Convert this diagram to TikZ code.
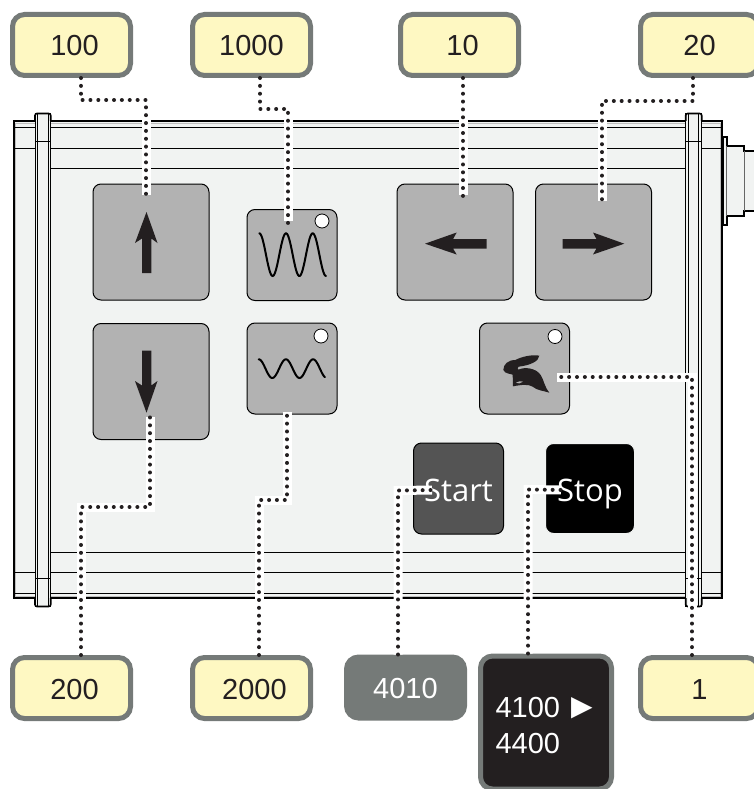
\documentclass[tikz,border=0pt]{standalone}
\usepackage{fontspec}
\setmainfont{Liberation Sans}
\newfontfamily\keyfont{Open Sans}
\newfontfamily\symfont{DejaVu Sans}
\usetikzlibrary{calc}
\definecolor{panelc}{HTML}{F1F3F2}
\definecolor{btnc}{HTML}{B2B2B2}
\definecolor{inkc}{HTML}{231F20}
\definecolor{edgec}{HTML}{757A78}
\definecolor{notec}{HTML}{FEF8C2}
\definecolor{startc}{HTML}{545454}
\tikzset{
  note/.style={draw=edgec,line width=5pt,fill=notec,rounded corners=12pt,minimum width=118pt,minimum height=61pt,inner sep=0pt,text=inkc,text height=22pt,text depth=0pt,font=\fontsize{29}{34}\selectfont},
  greynote/.style={note,fill=edgec,text=white},
  darknote/.style={draw=edgec,line width=5pt,fill=inkc,rounded corners=12pt,minimum width=131pt,minimum height=133pt,inner xsep=15pt,inner ysep=0pt,text=white,text width=101pt,align=left,font=\fontsize{29}{36}\selectfont},
  btn/.style={draw=black,line width=1pt,fill=btnc,rounded corners=8pt,inner sep=0pt},
  bigbtn/.style={btn,minimum width=116pt,minimum height=116pt},
  smallbtn/.style={btn,minimum width=90pt,minimum height=91pt},
  keybtn/.style={smallbtn,text=white,text height=25pt,text depth=0pt,font=\keyfont\fontsize{31}{36}\selectfont},
  led/.style={draw=black,line width=.8pt,fill=white,circle,minimum size=14pt,inner sep=0pt},
  halo/.style={draw=white,line width=9pt,shorten >=2pt},
  dots/.style={draw=inkc,line width=4pt,line cap=round,dash pattern=on 0.01pt off 7.85pt},
  thin/.style={draw=black,line width=.7pt},
  heavy/.style={draw=black,line width=2pt},
  glyph/.style={fill=inkc,draw=none},
  wave/.style={draw=black,line width=2pt,line cap=round},
}
\newcommand{\wire}[1]{\draw[halo] #1; \draw[dots] #1;}
\begin{document}
\begin{tikzpicture}[x=1pt,y=-1pt]
\useasboundingbox (0,0) rectangle (754,789);
\clip (0,0) rectangle (754,789);
% pipe at the right
\draw[fill=panelc,heavy] (723,136.7) -- (726.7,136.7) -- (726.7,145.7) -- (744,145.7) -- (744,150.7) -- (760,150.7) -- (760,210.7) -- (744,210.7) -- (744,216) -- (726.7,216) -- (726.7,225) -- (723,225) -- cycle;
\draw[thin,draw=black!60] (726.7,146) -- (726.7,216) (744,151) -- (744,211);
% panel
\draw[heavy,fill=panelc] (13.5,121.5) rectangle (722.3,598);
\draw[thin,draw=black!25] (15.3,123) rectangle (720.7,596);
\draw[thin] (15,127) -- (721,127) (15,148) -- (721,148) (15,572) -- (721,572) (15,593) -- (721,593) (50,168) -- (686,168) (50,552) -- (686,552);
% left strip
\draw[fill=panelc,draw=none] (35,113) rectangle (50.7,607);
\draw[line width=1.6pt,draw=black,rounded corners=2pt] (35,121) -- (35,113.5) -- (50.7,113.5) -- (50.7,121);
\draw[line width=1.6pt,draw=black,rounded corners=2pt] (35,598) -- (35,606.5) -- (50.7,606.5) -- (50.7,598);
\draw[thin] (35,113) -- (35,607) (37.7,114) -- (37.7,606) (47.9,114) -- (47.9,606) (50.7,113) -- (50.7,607) (35,141) -- (50.7,141) (35,578) -- (50.7,578);
% right strip
\draw[fill=panelc,draw=none] (685.7,113) rectangle (701.7,607);
\draw[line width=1.6pt,draw=black,rounded corners=2pt] (685.7,121) -- (685.7,113.5) -- (701.7,113.5) -- (701.7,121);
\draw[line width=1.6pt,draw=black,rounded corners=2pt] (685.7,598) -- (685.7,606.5) -- (701.7,606.5) -- (701.7,598);
\draw[thin] (685.7,113) -- (685.7,607) (688.4,114) -- (688.4,606) (698.6,114) -- (698.6,606) (701.7,113) -- (701.7,607) (685.7,141) -- (701.7,141) (685.7,578) -- (701.7,578);
% buttons
\node[bigbtn] (bUp) at (151,242) {};
\node[bigbtn] (bDown) at (151,381.5) {};
\node[bigbtn] (bLeft) at (455,242) {};
\node[bigbtn] (bRight) at (593.5,242) {};
\node[smallbtn] (bSine) at (292,255) {};
\node[smallbtn] (bWave) at (292,368.5) {};
\node[smallbtn] (bRabbit) at (524.5,368.5) {};
\node[led] (ledSine) at (322,221) {};
\node[led] (ledWave) at (321,336) {};
\node[led] (ledRabbit) at (555,336.5) {};
\node[keybtn,fill=startc] (bStart) at (458.5,488.5) {Start};
\node[keybtn,fill=black,draw=panelc,minimum width=89pt,minimum height=90pt] (bStop) at (590,488.5) {Stop};
% arrows
\fill[glyph] (146.5,212) -- (157.5,243) -- (151.3,238.5) -- (151.3,273) -- (142,273) -- (142,238.5) -- (135,243) -- cycle;
\fill[glyph] (146.5,412.7) -- (157.5,381) -- (151.3,385.5) -- (151.3,350.7) -- (142,350.7) -- (142,385.5) -- (135,381) -- cycle;
\fill[glyph] (425,243.7) -- (456.7,232.5) -- (453,239.2) -- (486.7,239.2) -- (486.7,248.5) -- (453,248.5) -- (456.7,254.5) -- cycle;
\fill[glyph] (624.3,243.7) -- (593,232.5) -- (596.5,239.2) -- (562.7,239.2) -- (562.7,248.5) -- (596.5,248.5) -- (593,254.5) -- cycle;
% waves
\draw[wave] plot[domain=259.3:326,samples=90] (\x,{254.65-21.35*cos((\x-259.3)*13.483)});
\draw[wave] plot[domain=258.7:325,samples=90] (\x,{368.65-9.35*cos((\x-258.7)*13.235)});
% rabbit
\begin{scope}[shift={(480,330)},x=.3333pt,y=-.3333pt]
\fill[glyph] (70,120) .. controls (70,103) and (84,90) .. (106,90) .. controls (125,80) and (155,73) .. (178,77) .. controls (177,94) and (150,106) .. (116,110) .. controls (112,113) and (112,117) .. (115,119) .. controls (135,110) and (168,114) .. (182,135) .. controls (192,150) and (192,168) .. (208,188) .. controls (190,182) and (172,182) .. (158,170) .. controls (145,162) and (125,164) .. (99,169) -- (98,134) .. controls (88,130) and (76,132) .. (70,120) -- cycle;
\fill[btnc] (108,158) .. controls (115,153) and (124,153) .. (129,155) .. controls (122,161) and (113,162) .. (108,158) -- cycle;
\end{scope}
% labels
\node[note] (l100) at (71.5,45) {\hspace*{6pt}100};
\node[note] (l1000) at (251.5,45) {1000};
\node[note] (l10) at (459.5,45) {\hspace*{6pt}10};
\node[note] (l20) at (699.5,45) {20};
\node[note] (l200) at (71.5,688) {\hspace*{6pt}200};
\node[note] (l2000) at (251.5,688) {\hspace*{6pt}2000};
\node[greynote] (l4010) at (405.5,687.5) {4010};
\node[note] (l1) at (699.5,688) {1};
\node[darknote] (l4100) at (546,722.5) {\rule{0pt}{26pt}4100\hspace{11pt}{\symfont\fontsize{28}{36}\selectfont\raisebox{2pt}{▶}}\\4400};
% connectors
\wire{($(l100.south)+(9.5,0)$) -- ++(0,22) -- ++(65,0) -- ($(bUp.north)+(-5,13)$)}
\wire{($(l1000.south)+(8.5,0)$) -- ++(0,31) -- ++(28,0) -- ($(bSine.north)+(-4,14)$)}
\wire{($(l10.south)+(3.5,0)$) -- ($(bLeft.north)+(8,13)$)}
\wire{($(l20.south)+(-6.5,0)$) -- ++(0,23) -- ++(-91,0) -- ($(bRight.north)+(8.5,19)$)}
\wire{($(l200.north)+(9.5,0)$) -- ++(0,-148) -- ++(69,0) -- ($(bDown.south)+(-1,-25)$)}
\wire{($(l2000.north)+(7.5,0)$) -- ++(0,-155) -- ++(28,0) -- ($(bWave.south)+(-5,-5)$)}
\wire{($(l4010.north)+(-7.5,0)$) -- ++(0,-164) -- ($(bStart.west)+(21,1.5)$)}
\wire{($(l4100.north)+(-18,0)$) -- ++(0,-164) -- ($(bStop.west)+(18,1.5)$)}
\wire{($(l1.north)+(-7.5,0)$) -- ++(0,-278) -- ($(bRabbit.east)+(-15,8.5)$)}
\end{tikzpicture}
\end{document}
